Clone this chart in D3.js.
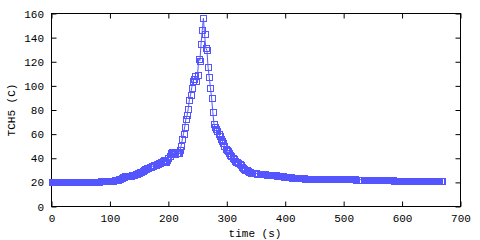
<!DOCTYPE html>
<html>
<head>
<meta charset="utf-8">
<script src="https://cdn.jsdelivr.net/npm/d3@7"></script>
<style>
  body { margin: 0; background: #fff; }
  svg { display: block; }
  text { font-family: "Liberation Mono", "DejaVu Sans Mono", monospace; font-size: 11px; fill: #000; }
</style>
</head>
<body>
<svg id="app" width="480" height="240"></svg>
<script>
// sampling interval of the logger (s)
const SAMPLE_DT = 2;

// TCH5 temperature (C), one value every SAMPLE_DT seconds, starting at t = 0
const tch5 = [
  20.0, 20.0, 20.0, 20.0, 20.0, 20.0, 20.0, 20.0, 20.0, 20.0,
  20.0, 20.0, 20.1, 20.0, 20.0, 20.0, 20.1, 20.0, 20.0, 20.0,
  20.0, 20.0, 20.0, 20.1, 20.0, 20.0, 20.0, 20.1, 20.0, 20.1,
  20.1, 20.1, 20.1, 20.2, 20.2, 20.3, 20.4, 20.5, 20.6, 20.6,
  20.7, 20.7, 20.8, 20.8, 20.9, 20.9, 21.0, 21.0, 21.1, 21.1,
  21.2, 21.3, 21.4, 21.5, 21.6, 21.7, 21.9, 22.1, 22.6, 23.2,
  23.8, 24.3, 24.7, 25.0, 25.1, 25.2, 25.3, 25.5, 25.6, 25.8,
  26.0, 26.3, 26.6, 27.0, 27.5, 28.0, 28.5, 29.0, 29.6, 30.3,
  30.8, 31.2, 31.6, 32.0, 32.4, 32.8, 33.2, 33.6, 34.0, 34.5,
  35.0, 35.4, 35.9, 36.4, 37.0, 37.8, 38.2, 37.4, 36.9, 38.5,
  40.5, 42.0, 44.5, 45.3, 44.8, 44.0, 43.8, 44.2, 44.0, 44.3,
  47.0, 50.5, 56.0, 60.5, 66.0, 72.5, 75.5, 81.0, 88.5, 92.5,
  98.5, 104.0, 105.8, 108.3, 104.2, 109.0, 122.5, 121.0, 135.0, 146.0,
  156.0, 142.7, 131.6, 129.4, 115.3, 107.0, 98.4, 90.0, 78.7, 68.7,
  66.0, 64.6, 62.5, 60.4, 58.5, 56.3, 54.5, 52.5, 50.0, 48.0,
  46.5, 45.8, 44.5, 43.0, 41.5, 40.0, 39.0, 38.0, 37.2, 36.5,
  36.0, 35.3, 34.5, 33.0, 32.0, 31.2, 30.5, 30.0, 29.3, 28.8,
  28.3, 28.0, 27.8, 27.6, 27.5, 27.4, 27.3, 27.2, 27.1, 27.0,
  26.9, 26.8, 26.7, 26.6, 26.5, 26.4, 26.3, 26.2, 26.1, 26.0,
  25.9, 25.8, 25.7, 25.6, 25.5, 25.3, 25.1, 25.0, 24.9, 24.8,
  24.6, 24.5, 24.4, 24.3, 24.2, 24.1, 24.0, 23.9, 23.8, 23.7,
  23.6, 23.5, 23.5, 23.4, 23.4, 23.3, 23.3, 23.2, 23.2, 23.2,
  23.1, 23.1, 23.1, 23.0, 23.0, 23.0, 22.9, 22.9, 22.9, 23.0,
  23.0, 22.9, 22.9, 22.9, 22.8, 22.8, 22.8, 22.8, 22.7, 22.7,
  22.7, 22.7, 22.7, 22.6, 22.6, 22.7, 22.6, 22.6, 22.6, 22.6,
  22.6, 22.5, 22.5, 22.5, 22.5, 22.5, 22.4, 22.4, 22.4, 22.4,
  22.4, 22.3, 22.3, 22.3, 22.3, 22.2, 22.2, 22.2, 22.1, 22.1,
  22.1, 22.0, 22.0, 22.0, 22.0, 21.9, 21.9, 21.9, 21.9, 21.8,
  21.8, 21.8, 21.8, 21.7, 21.7, 21.7, 21.7, 21.7, 21.6, 21.6,
  21.6, 21.6, 21.6, 21.5, 21.5, 21.5, 21.5, 21.5, 21.4, 21.4,
  21.4, 21.4, 21.4, 21.3, 21.3, 21.3, 21.3, 21.3, 21.2, 21.2,
  21.2, 21.2, 21.2, 21.1, 21.1, 21.1, 21.1, 21.1, 21.0, 21.0,
  21.0, 20.9, 20.8, 20.9, 21.0, 21.0, 20.9, 20.9, 21.0, 20.9,
  20.9, 20.8, 20.9, 20.8, 20.8
];

const xTicks = [0, 100, 200, 300, 400, 500, 600, 700];
const yTicks = [0, 20, 40, 60, 80, 100, 120, 140, 160];

const COLOR = "#5555ff";
const MARK = 6;   // marker square size

var svg = d3.select("#app");

// scales, plot box from (51.5,13.5) to (460.5,206.5)
const x = d3.scaleLinear().domain([0, 700]).range([51.5, 460.5]);
const y = d3.scaleLinear().domain([0, 160]).range([206.5, 13.5]);

const data = tch5.map((v, i) => ({ t: i * SAMPLE_DT, v: v }));

// frame
svg.append("rect")
  .attr("x", 51.5).attr("y", 13.5)
  .attr("width", 409).attr("height", 193)
  .attr("fill", "none").attr("stroke", "#000").attr("stroke-width", 1);

// bottom axis, inward ticks
var gx = svg.append("g").attr("transform", "translate(0,206.5)")
  .call(d3.axisBottom(x).tickValues(xTicks).tickSizeInner(-5).tickSizeOuter(0));
gx.select(".domain").remove();
gx.selectAll("text").attr("y", 15).attr("dy", null).attr("font-size", null).attr("font-family", null);

// top mirror ticks
var gt = svg.append("g").attr("transform", "translate(0,13.5)")
  .call(d3.axisTop(x).tickValues(xTicks).tickSizeInner(-5).tickSizeOuter(0).tickFormat(""));
gt.select(".domain").remove();

// left axis
var gy = svg.append("g").attr("transform", "translate(51.5,0)")
  .call(d3.axisLeft(y).tickValues(yTicks).tickSizeInner(-5).tickSizeOuter(0));
gy.select(".domain").remove();
gy.selectAll("text").attr("x", -7.5).attr("dy", "3.5").attr("font-size", null).attr("font-family", null);

// right mirror ticks
var gr = svg.append("g").attr("transform", "translate(460.5,0)")
  .call(d3.axisRight(y).tickValues(yTicks).tickSizeInner(-5).tickSizeOuter(0).tickFormat(""));
gr.select(".domain").remove();

svg.selectAll(".tick line").attr("stroke", "#000");

// connecting line
const line = d3.line().x(d => x(d.t)).y(d => y(d.v));
svg.append("path")
  .datum(data)
  .attr("d", line)
  .attr("fill", "none")
  .attr("stroke", COLOR)
  .attr("stroke-width", 1);

// hollow square markers
svg.append("g").selectAll("rect")
  .data(data)
  .enter()
  .append("rect")
  .attr("x", d => Math.round(x(d.t)) - MARK / 2 + 0.5)
  .attr("y", d => Math.round(y(d.v)) - MARK / 2 + 0.5)
  .attr("width", MARK)
  .attr("height", MARK)
  .attr("fill", "none")
  .attr("stroke", COLOR)
  .attr("stroke-width", 1);

// axis titles
svg.append("text")
  .attr("x", 255).attr("y", 236.5)
  .attr("text-anchor", "middle")
  .text("time (s)");

svg.append("text")
  .attr("transform", "translate(14.5,110) rotate(-90)")
  .attr("text-anchor", "middle")
  .text("TCH5 (C)");
</script>
</body>
</html>
